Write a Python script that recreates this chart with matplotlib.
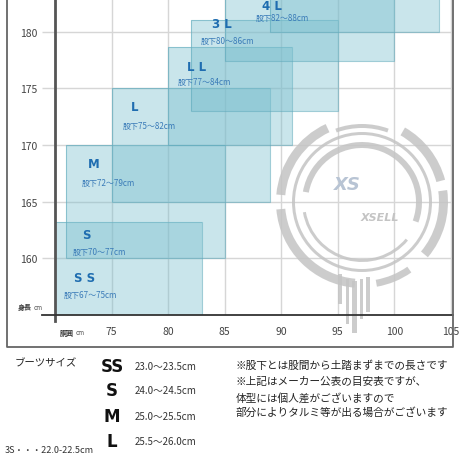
import matplotlib
matplotlib.use("Agg")
import matplotlib.pyplot as plt
from matplotlib.patches import Rectangle, Wedge

plt.rcParams['font.family'] = ['Noto Sans CJK JP', 'DejaVu Sans']

# size boxes: waist (cm) x height (cm)
waist_lo = [70, 71, 75, 80, 82, 85, 89]
waist_hi = [83, 85, 89, 91, 95, 100, 104]
height_lo = [155, 160, 165, 170, 173, 177.4, 180]
height_hi = [163.2, 170, 175, 178.6, 181, 186, 189]

size_names = ['S S', 'S', 'M', 'L', 'L L', '3 L', '4 L']
name_x = [72.65, 72.8, 73.45, 77.0, 82.5, 84.8, 89.2]
name_y = [158.35, 162.1, 168.4, 173.4, 176.9, 180.7, 182.3]
inseam = ['股下67～75cm', '股下70～77cm', '股下72～79cm', '股下75～82cm',
          '股下77～84cm', '股下80～86cm', '股下82～88cm']
inseam_x = [70.8, 71.6, 72.4, 76.0, 80.9, 82.9, 87.8]
inseam_y = [156.8, 160.6, 166.7, 171.75, 175.6, 179.2, 181.2]

x_ticks = [75, 80, 85, 90, 95, 100, 105]
y_ticks = [160, 165, 170, 175, 180]

boot_sizes = ['SS', 'S', 'M', 'L']
boot_ranges = ['23.0～23.5cm', '24.0～24.5cm', '25.0～25.5cm', '25.5～26.0cm']
notes = ['※股下とは股間から土踏まずまでの長さです',
         '※上記はメーカー公表の目安表ですが、',
         '体型には個人差がございますので',
         '部分によりタルミ等が出る場合がございます']

W = 460
fig = plt.figure(figsize=(4.6, 4.6), dpi=100)

ax = fig.add_axes([55 / W, 1 - 316 / W, (453 - 55) / W, 316 / W])
ax.set_xlim(70, 105.2)
ax.set_ylim(155, 182.87)
for s in ax.spines.values():
    s.set_visible(False)
ax.set_xticks(x_ticks)
ax.set_yticks(y_ticks)
ax.grid(True, color='#d6d6d6', lw=1)
ax.set_axisbelow(True)
ax.tick_params(axis='y', length=9.5, color='#d6d6d6', width=1, pad=3,
               labelsize=7.5, labelcolor='#444444')
ax.tick_params(axis='x', length=0, pad=8, labelsize=7.5, labelcolor='#444444')

box_face = (120 / 255, 190 / 255, 205 / 255)
box_edge = (95 / 255, 170 / 255, 188 / 255)
for i in range(len(waist_lo)):
    ax.add_patch(Rectangle((waist_lo[i], height_lo[i]),
                           waist_hi[i] - waist_lo[i], height_hi[i] - height_lo[i],
                           facecolor=box_face, alpha=0.4, edgecolor='none', zorder=2))
    ax.add_patch(Rectangle((waist_lo[i], height_lo[i]),
                           waist_hi[i] - waist_lo[i], height_hi[i] - height_lo[i],
                           facecolor='none', edgecolor=box_edge, alpha=0.6, lw=0.8, zorder=2))

for i in range(len(size_names)):
    ax.text(name_x[i], name_y[i], size_names[i], color='#1f6db0', fontsize=8.5,
            fontweight='bold', ha='center', va='center', zorder=5,
            family=['DejaVu Sans'])
    ax.text(inseam_x[i], inseam_y[i], inseam[i], color='#3a7bb8', fontsize=5.8,
            ha='left', va='center', zorder=5)

# overlay in pixel coordinates for frame, logo and notes
ov = fig.add_axes([0, 0, 1, 1])
ov.set_xlim(0, W)
ov.set_ylim(W, 0)
ov.axis('off')
ov.patch.set_alpha(0)

# watermark logo
g = '#c4c4c4'
cx, cy = 362, 203
for r, t1, t2, wd in [(86, 95, 175, 9), (86, 185, 245, 9), (86, 300, 345, 9),
                      (86, 352, 40, 9), (86, 55, 80, 7), (70, 0, 360, 3),
                      (60, 190, 20, 6), (60, 40, 170, 3), (78, 250, 290, 4)]:
    ov.add_patch(Wedge((cx, cy), r, t1, t2, width=wd, facecolor=g,
                       edgecolor='none', alpha=0.85, zorder=3))
for bx, by, bw, bh in [(338, 275, 4, 30), (346, 280, 3, 45), (352, 282, 5, 52),
                       (360, 280, 3, 40), (366, 278, 4, 35)]:
    ov.add_patch(Rectangle((bx, by), bw, bh, facecolor=g, edgecolor='none',
                           alpha=0.85, zorder=3))
ov.text(347, 185, 'XS', color='#b8c4d4', fontsize=13, fontstyle='italic',
        fontweight='bold', ha='center', va='center', family=['DejaVu Sans'])
ov.text(380, 218, 'XSELL', color=g, fontsize=8, fontstyle='italic',
        fontweight='bold', ha='center', va='center', family=['DejaVu Sans'])

# axes lines and outer frame
ov.plot([55, 55], [0, 322], color='#555555', lw=2, zorder=6)
ov.plot([42, 453], [316, 316], color='#333333', lw=1.3, zorder=6)
ov.plot([7, 7, 453, 453], [0, 348, 348, 0], color='#666666', lw=1.3, zorder=6)

ov.text(18, 308, '身長', fontsize=5, color='#333333', ha='left', va='center',
        fontweight='bold')
ov.text(34, 308, 'cm', fontsize=4.5, color='#555555', ha='left', va='center')
ov.text(60, 333, '胴囲', fontsize=5, color='#333333', ha='left', va='center',
        fontweight='bold')
ov.text(76, 333, 'cm', fontsize=4.5, color='#555555', ha='left', va='center')

# boot sizes
ov.text(15, 363, 'ブーツサイズ', fontsize=7.5, color='#222222', ha='left', va='center')
boot_y = [367, 391, 417, 442]
for i in range(len(boot_sizes)):
    ov.text(112, boot_y[i], boot_sizes[i], fontsize=12, fontweight='heavy',
            color='#111111', ha='center', va='center', family=['DejaVu Sans'])
    ov.text(135, boot_y[i], boot_ranges[i], fontsize=7, color='#333333',
            ha='left', va='center')
ov.text(5, 451, '3S・・・22.0-22.5cm', fontsize=6.5, color='#333333',
        ha='left', va='center')

note_y = [366, 382, 398, 413]
for i in range(len(notes)):
    ov.text(236, note_y[i], notes[i], fontsize=7.7, color='#222222',
            ha='left', va='center')

fig.savefig('out.png', dpi=100)
